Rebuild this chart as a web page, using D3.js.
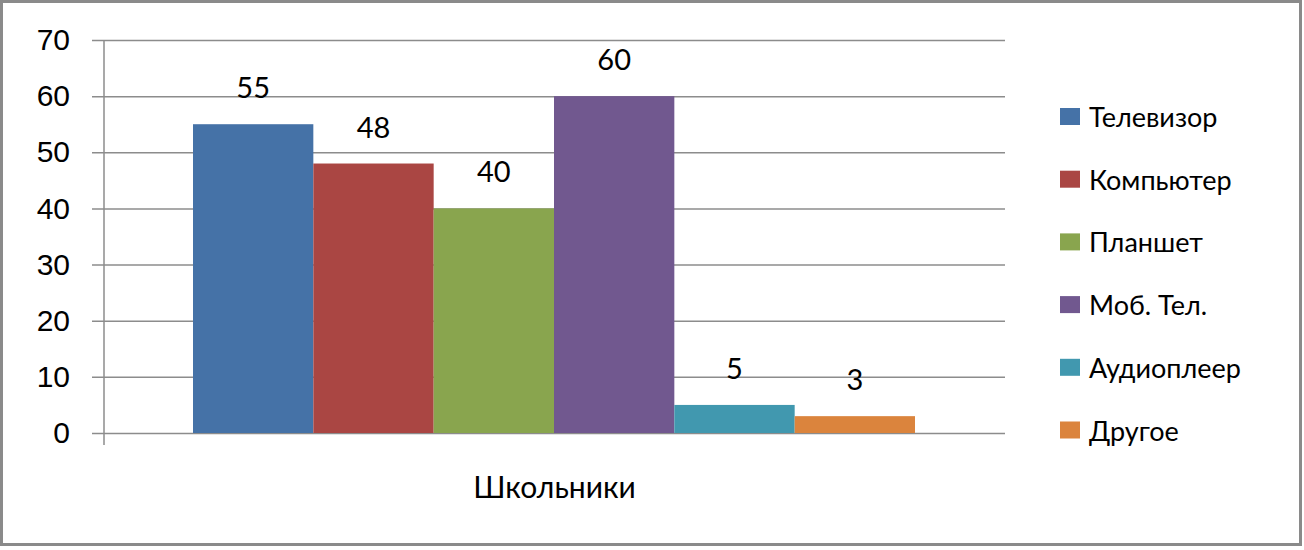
<!DOCTYPE html>
<html>
<head>
<meta charset="utf-8">
<script src="https://cdn.jsdelivr.net/npm/d3@7/dist/d3.min.js"></script>
<style>
  body { margin: 0; background: #fff; }
  svg { display: block; font-family: Lato, "Noto Sans", sans-serif; }
  .grid line { stroke: #8c8c8c; stroke-width: 1.5; }
  .grid path { display: none; }
  .tick text { fill: #000; }
</style>
</head>
<body>
<svg width="1304" height="550"></svg>
<script>
// данные
var group = "Школьники";
var series = ["Телевизор", "Компьютер", "Планшет", "Моб. Тел.", "Аудиоплеер", "Другое"];
var values = [55, 48, 40, 60, 5, 3];
var colors = ["#4572a7", "#aa4643", "#89a54e", "#71588f", "#4198af", "#db843d"];
var yTicks = [0, 10, 20, 30, 40, 50, 60, 70];

var svg = d3.select("svg"),
    margin = {top: 40, right: 299, bottom: 117, left: 104},
    width = 1304 - margin.left - margin.right,
    height = 550 - margin.top - margin.bottom,
    g = svg.append("g")
      .attr("transform", "translate(" + margin.left + "," + margin.top + ")");

// рамка
svg.append("rect")
    .attr("x", 1.5).attr("y", 1.5)
    .attr("width", 1299).attr("height", 543)
    .attr("fill", "none")
    .attr("stroke", "#8a8a8a")
    .attr("stroke-width", 3);

var y = d3.scaleLinear()
    .domain([0, 70])
    .range([height, 0]);

var x0 = d3.scaleBand()
    .domain([group])
    .range([0, width]);

var x1 = d3.scaleBand()
    .domain(series)
    .range([89, width - 90]);

// сетка и ось Y
g.append("g")
    .attr("class", "grid")
    .call(d3.axisLeft(y)
      .tickValues(yTicks)
      .tickSize(-width)
      .tickPadding(34))
    .call(function(a) {
      a.selectAll(".tick line").attr("x1", -12);
      a.selectAll(".tick text").style("font-size", "30px");
    });

// вертикальная ось
g.append("line")
    .attr("x1", 0).attr("x2", 0)
    .attr("y1", 0).attr("y2", height + 12)
    .attr("stroke", "#8c8c8c")
    .attr("stroke-width", 1.5);

// столбцы
g.selectAll(".bar")
    .data(values)
    .enter().append("rect")
    .attr("class", "bar")
    .attr("x", function(d, i) { return x1(series[i]); })
    .attr("y", function(d) { return y(d); })
    .attr("width", x1.bandwidth())
    .attr("height", function(d) { return height - y(d); })
    .attr("fill", function(d, i) { return colors[i]; });

// подписи значений
g.selectAll(".lbl")
    .data(values)
    .enter().append("text")
    .attr("class", "lbl")
    .attr("x", function(d, i) { return x1(series[i]) + x1.bandwidth() / 2; })
    .attr("y", function(d) { return y(d) - 26; })
    .attr("text-anchor", "middle")
    .style("font-size", "29px")
    .text(function(d) { return d; });

// подпись категории
g.append("text")
    .attr("x", x0(group) + x0.bandwidth() / 2)
    .attr("y", height + 65)
    .attr("text-anchor", "middle")
    .style("font-size", "30px")
    .text(group);

// легенда
var legend = svg.selectAll(".legend")
    .data(series)
    .enter().append("g")
    .attr("class", "legend")
    .attr("transform", function(d, i) { return "translate(1060," + (117 + i * 62.7) + ")"; });

legend.append("rect")
    .attr("x", 0).attr("y", -9)
    .attr("width", 20).attr("height", 17)
    .attr("fill", function(d, i) { return colors[i]; });

legend.append("text")
    .attr("x", 29)
    .attr("y", 10)
    .style("font-size", "27px")
    .text(function(d) { return d; });
</script>
</body>
</html>
